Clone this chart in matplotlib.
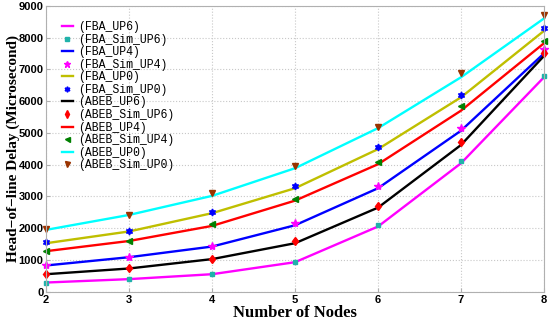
import matplotlib
matplotlib.use("Agg")
import matplotlib.pyplot as plt

nodes = [2, 3, 4, 5, 6, 7, 8]

# analytic curves
fba_up6 = [293, 400, 555, 933, 2055, 4045, 6750]
fba_up4 = [830, 1090, 1425, 2095, 3260, 5070, 7500]
fba_up0 = [1530, 1900, 2475, 3260, 4490, 6120, 8210]
abeb_up6 = [555, 735, 1030, 1530, 2650, 4620, 7420]
abeb_up4 = [1280, 1600, 2075, 2870, 4015, 5700, 7820]
abeb_up0 = [1950, 2420, 3020, 3890, 5150, 6750, 8600]

# simulation points
fba_sim_up6 = [293, 400, 570, 950, 2105, 4120, 6790]
fba_sim_up4 = [850, 1090, 1450, 2160, 3330, 5170, 7630]
fba_sim_up0 = [1560, 1920, 2500, 3340, 4570, 6195, 8310]
abeb_sim_up6 = [570, 735, 1040, 1600, 2715, 4710, 7525]
abeb_sim_up4 = [1300, 1600, 2140, 2915, 4090, 5850, 7890]
abeb_sim_up0 = [1970, 2420, 3100, 3970, 5200, 6880, 8710]

fig = plt.figure(figsize=(5.5, 3.2), dpi=100)
ax = fig.add_axes([0.084, 0.088, 0.905, 0.894])

lw = 1.7
ms = 4.5
kw = dict(clip_on=False)
ax.plot(nodes, fba_up6, color='#ff00ff', lw=lw, label='(FBA_UP6)', **kw)
ax.plot(nodes, fba_sim_up6, ls='none', marker='s', ms=3.5, color='#20b2aa', label='(FBA_Sim_UP6)', **kw)
ax.plot(nodes, fba_up4, color='#0000ff', lw=lw, label='(FBA_UP4)', **kw)
ax.plot(nodes, fba_sim_up4, ls='none', marker='*', ms=6, color='#ff00ff', label='(FBA_Sim_UP4)', **kw)
ax.plot(nodes, fba_up0, color='#bfbf00', lw=lw, label='(FBA_UP0)', **kw)
ax.plot(nodes, fba_sim_up0, ls='none', marker=(6, 1, 0), ms=5, color='#0000ff', label='(FBA_Sim_UP0)', **kw)
ax.plot(nodes, abeb_up6, color='black', lw=lw, label='(ABEB_UP6)', **kw)
ax.plot(nodes, abeb_sim_up6, ls='none', marker='d', ms=ms, color='red', label='(ABEB_Sim_UP6)', **kw)
ax.plot(nodes, abeb_up4, color='red', lw=lw, label='(ABEB_UP4)', **kw)
ax.plot(nodes, abeb_sim_up4, ls='none', marker='<', ms=ms, color='#008000', label='(ABEB_Sim_UP4)', **kw)
ax.plot(nodes, abeb_up0, color='cyan', lw=lw, label='(ABEB_UP0)', **kw)
ax.plot(nodes, abeb_sim_up0, ls='none', marker='v', ms=ms, color='#993300', label='(ABEB_Sim_UP0)', **kw)

ax.set_xlim(2, 8)
ax.set_ylim(0, 9000)
ax.set_xticks(nodes)
ax.set_yticks(range(0, 9001, 1000))
ax.grid(True, ls=':', color='#c8c8c8', lw=0.8)
for s in ax.spines.values():
    s.set_color('#b0b0b0')
ax.tick_params(direction='in', length=3, color='#b0b0b0', labelsize=8, pad=2)
for t in ax.get_xticklabels() + ax.get_yticklabels():
    t.set_fontweight('bold')
    t.set_fontfamily('Liberation Sans')

ax.set_xlabel('Number of Nodes', fontsize=12, fontweight='bold', family='Liberation Serif', labelpad=0)
ax.set_ylabel('Head\u2212of\u2212line Delay (Microsecond)', fontsize=11, fontweight='bold',
              family='Liberation Serif')
ax.yaxis.set_label_coords(-0.052, 0.5)

ax.legend(loc='upper left', bbox_to_anchor=(0.015, 0.975), frameon=False,
          prop={'family': 'Liberation Mono', 'size': 8.3},
          handlelength=1.0, handletextpad=0.4, labelspacing=0.05, borderaxespad=0.3,
          markerscale=0.8)

fig.savefig('out.png', dpi=100)
